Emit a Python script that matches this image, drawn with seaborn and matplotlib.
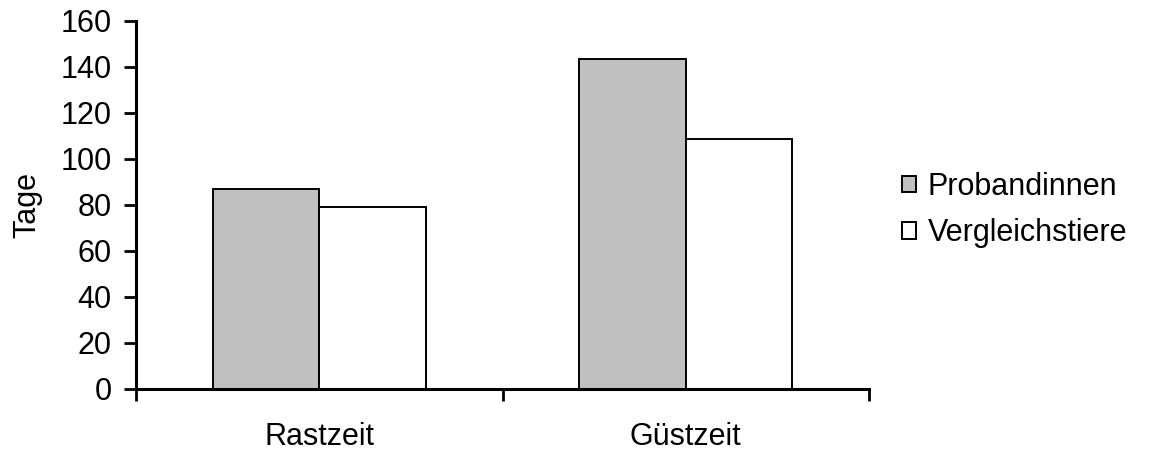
import matplotlib
matplotlib.use("Agg")
import matplotlib.pyplot as plt
import seaborn as sns
import pandas as pd

# Ruhe- und Güstzeiten (Tage)
categories = ["Rastzeit", "Güstzeit"]
groups = ["Probandinnen", "Vergleichstiere"]
probandinnen = [87, 143.3]
vergleichstiere = [79, 108.6]
y_ticks = [0, 20, 40, 60, 80, 100, 120, 140, 160]

df = pd.DataFrame({
    "Zeit": categories * 2,
    "Gruppe": [groups[0]] * len(categories) + [groups[1]] * len(categories),
    "Tage": probandinnen + vergleichstiere,
})

sns.set_style("white")
plt.rcParams["font.family"] = ["Liberation Sans", "DejaVu Sans"]
plt.rcParams["text.color"] = "black"
plt.rcParams["axes.labelcolor"] = "black"
plt.rcParams["xtick.color"] = "black"
plt.rcParams["ytick.color"] = "black"

fig = plt.figure(figsize=(11.51, 4.54), dpi=100)
ax = fig.add_axes([136 / 1151, 1 - 389 / 454, (869 - 136) / 1151, (389 - 21) / 454])

sns.barplot(
    data=df, x="Zeit", y="Tage", hue="Gruppe", order=categories, hue_order=groups,
    palette={groups[0]: "#c0c0c0", groups[1]: "#ffffff"},
    edgecolor="black", linewidth=1.4, width=0.58, gap=0, ax=ax,
    errorbar=None, saturation=1,
)

ax.set_xlim(-0.5, 1.5)
ax.set_ylim(0, 160)
ax.set_yticks(y_ticks)
ax.set_yticklabels([str(v) for v in y_ticks], fontsize=22, color="black")

ax.set_xticks(range(len(categories)))
ax.set_xticklabels(categories, fontsize=22, color="black")
ax.set_xticks([-0.5, 0.5, 1.5], minor=True)
ax.tick_params(axis="x", which="major", length=0, pad=24, bottom=True)
ax.tick_params(axis="x", which="minor", length=8.5, width=2, direction="out",
               color="black", bottom=True)
ax.tick_params(axis="y", which="major", length=8.5, width=2, direction="out",
               color="black", pad=9, left=True)

ax.set_xlabel("")
ax.set_ylabel("Tage", fontsize=22, color="black")
ax.yaxis.set_label_coords(-0.128, 0.5)

for side in ["top", "right"]:
    ax.spines[side].set_visible(False)
for side in ["left", "bottom"]:
    ax.spines[side].set_color("black")
    ax.spines[side].set_linewidth(2.2)

handles, labels = ax.get_legend_handles_labels()
leg = ax.legend(
    handles, labels, loc="center left",
    bbox_to_anchor=(902 / 1151, 1 - 210 / 454), bbox_transform=fig.transFigure,
    frameon=False, fontsize=22, handlelength=0.45, handleheight=0.45,
    handletextpad=0.4, labelspacing=0.55, borderpad=0, borderaxespad=0,
)
for t in leg.get_texts():
    t.set_color("black")

fig.savefig("out.png", dpi=100)
